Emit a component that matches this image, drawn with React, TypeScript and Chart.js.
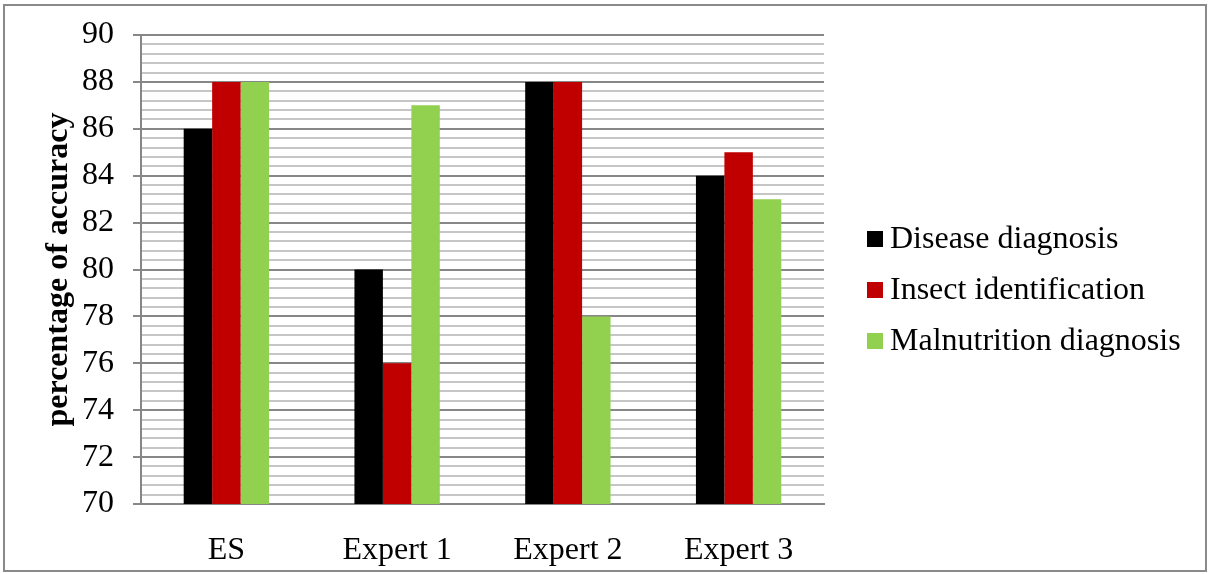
import { useEffect, useRef } from "react";
import { Chart, registerables } from "chart.js";

Chart.register(...registerables);

const categories = ["ES", "Expert 1", "Expert 2", "Expert 3"];
const seriesNames = ["Disease diagnosis", "Insect identification", "Malnutrition diagnosis"];
const diseaseDiagnosis = [86, 80, 88, 84];
const insectIdentification = [88, 76, 88, 85];
const malnutritionDiagnosis = [88, 87, 78, 83];
const seriesColors = ["#000000", "#C00000", "#92D050"];

const yMin = 70;
const yMax = 90;
const minorStep = 0.4;
const majorStep = 2;

const FONT = "'Liberation Serif', 'Times New Roman', serif";
const W = 1209;
const H = 574;

const isMajor = (v: number) => {
  const r = (v - yMin) / majorStep;
  return Math.abs(r - Math.round(r)) < 1e-6;
};

// Frame around the whole figure
const framePlugin = {
  id: "frame",
  beforeDraw(chart: Chart) {
    const { ctx } = chart;
    ctx.save();
    ctx.fillStyle = "#ffffff";
    ctx.fillRect(0, 0, W, H);
    ctx.strokeStyle = "#8a8a8a";
    ctx.lineWidth = 2;
    ctx.strokeRect(4, 5, W - 7, H - 8);
    ctx.restore();
  },
};

// Legend to the right of the plot: square swatches followed by the series names
const sideLegendPlugin = {
  id: "sideLegend",
  afterDraw(chart: Chart) {
    const { ctx, chartArea } = chart;
    const x0 = chartArea.right + 43;
    const yStart = 239;
    const gap = 51;
    ctx.save();
    ctx.font = `32px ${FONT}`;
    ctx.textBaseline = "middle";
    ctx.textAlign = "left";
    chart.data.datasets.forEach((ds: any, i: number) => {
      const yc = yStart + i * gap;
      ctx.fillStyle = ds.backgroundColor as string;
      ctx.fillRect(x0, yc - 8, 16, 16);
      ctx.fillStyle = "#000000";
      ctx.fillText(ds.label, x0 + 23, yc + 1);
    });
    ctx.restore();
  },
};

export default function App() {
  const canvasRef = useRef<HTMLCanvasElement | null>(null);

  useEffect(() => {
    const canvas = canvasRef.current;
    if (!canvas) return;
    const seriesValues = [diseaseDiagnosis, insectIdentification, malnutritionDiagnosis];
    const chart = new Chart(canvas, {
      type: "bar",
      data: {
        labels: categories,
        datasets: seriesNames.map((name, i) => ({
          label: name,
          data: seriesValues[i],
          backgroundColor: seriesColors[i],
          borderWidth: 0,
          categoryPercentage: 0.5,
          barPercentage: 1.0,
        })),
      },
      options: {
        responsive: false,
        animation: false,
        devicePixelRatio: 1,
        layout: { padding: { left: 0, top: 35, right: W - 824, bottom: 0 } },
        plugins: {
          legend: { display: false },
          tooltip: { enabled: false },
        },
        scales: {
          x: {
            grid: { display: false },
            border: { display: true, color: "#868686", width: 2 },
            ticks: {
              color: "#000000",
              font: { family: FONT, size: 32 },
              padding: 19,
            },
            afterFit(scale: any) {
              scale.height = 70;
              scale.paddingLeft = 0;
              scale.paddingRight = 0;
            },
          },
          y: {
            min: yMin,
            max: yMax,
            border: { display: true, color: "#868686", width: 2 },
            grid: {
              color: (ctx: any) => (isMajor(ctx.tick.value) ? "#878787" : "#c6c6c6"),
              lineWidth: 2,
              tickColor: (ctx: any) => (isMajor(ctx.tick.value) ? "#878787" : "rgba(0,0,0,0)"),
              tickLength: 8,
            },
            ticks: {
              stepSize: minorStep,
              maxTicksLimit: 100,
              autoSkip: false,
              color: "#000000",
              font: { family: FONT, size: 32 },
              padding: 19,
              callback: (value: any) => (isMajor(Number(value)) ? String(Math.round(Number(value))) : ""),
            },
            title: {
              display: true,
              text: "percentage of accuracy",
              color: "#000000",
              font: { family: FONT, size: 32, weight: "bold" },
              padding: { top: 40, bottom: 0 },
            },
            afterFit(scale: any) {
              scale.width = 141;
              scale.paddingTop = 0;
              scale.paddingBottom = 0;
            },
          },
        },
      },
      plugins: [framePlugin, sideLegendPlugin],
    });
    return () => chart.destroy();
  }, []);

  return (
    <div style={{ position: "absolute", left: 0, top: 0, width: W, height: H, background: "#fff" }}>
      <canvas ref={canvasRef} width={W} height={H} style={{ display: "block" }} />
    </div>
  );
}
